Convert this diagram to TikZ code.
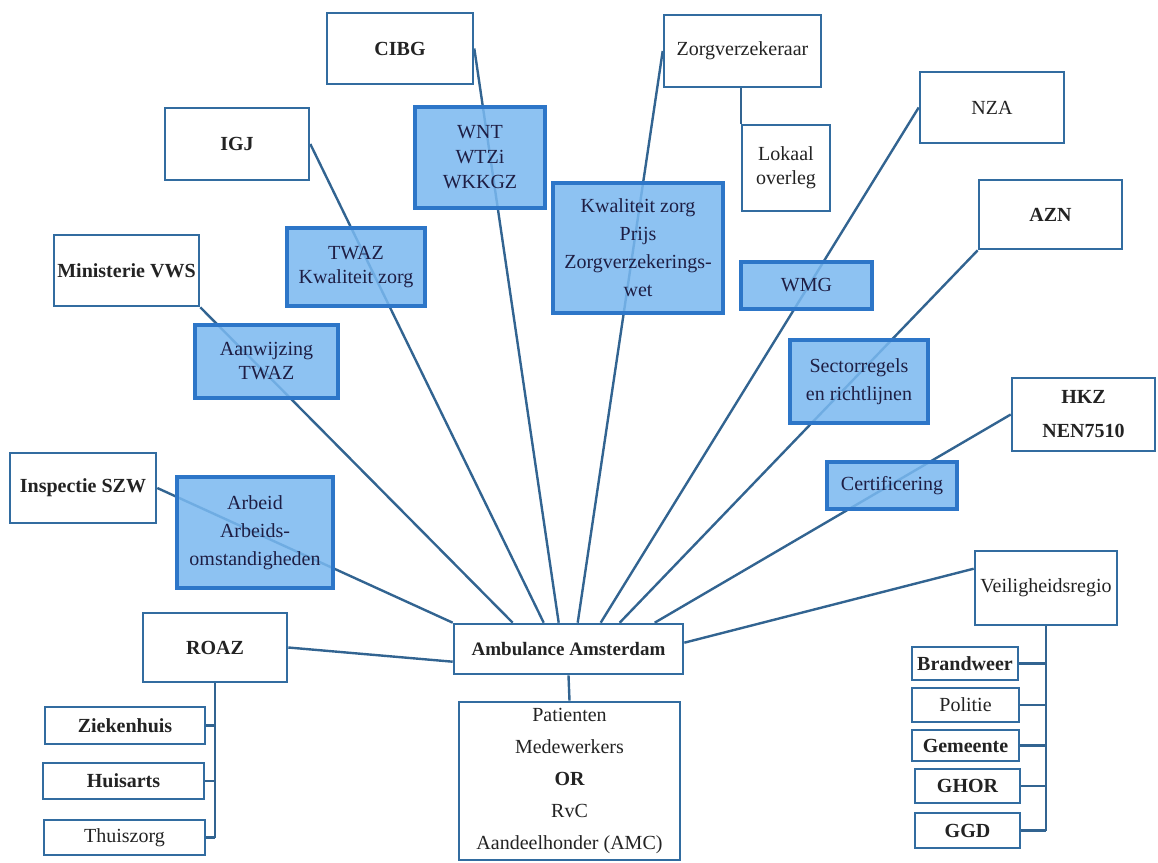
\documentclass[tikz,border=0pt]{standalone}
\usepackage{fontspec}
\setmainfont{Liberation Serif}
\usetikzlibrary{calc,backgrounds}
\definecolor{bord}{RGB}{50,108,160}
\definecolor{lnk}{RGB}{50,100,145}
\definecolor{bfill}{RGB}{122,184,240}
\definecolor{bbord}{RGB}{45,118,200}
\definecolor{txt}{RGB}{35,35,35}
\tikzset{
 base/.style={inner sep=0pt, align=center, text=txt, font=\fontsize{10}{12}\selectfont},
 wbox/.style={base, draw=bord, line width=1.3pt, fill=white},
 bbox/.style={base, draw=bbord, line width=1.6pt, fill=bfill, fill opacity=0.86, text opacity=1, text=txt!85!blue},
 link/.style={draw=lnk, line width=1.2pt},
}
% box: name, x1, y1, x2, y2, style, text
\newcommand\mybox[7]{\node[#6, minimum width={(#4-#2)*0.5pt}, minimum height={(#5-#3)*0.5pt}] (#1) at ({(#2+#4)/2},{(#3+#5)/2}) {#7};}
\begin{document}
\begin{tikzpicture}[x=0.5pt,y=-0.5pt]
\useasboundingbox (0,0) rectangle (1158,863);

% white boxes
\mybox{cibg}{327}{13}{473}{84}{wbox}{\bfseries CIBG}
\mybox{igj}{165}{108}{309}{180}{wbox}{\bfseries IGJ}
\mybox{vws}{54}{235}{199}{306}{wbox}{\bfseries Ministerie VWS}
\mybox{zorg}{664}{15}{821}{87}{wbox}{Zorgverzekeraar}
\mybox{lok}{742}{125}{830}{211}{wbox}{Lokaal\\overleg}
\mybox{nza}{920}{72}{1064}{143}{wbox}{NZA}
\mybox{azn}{979}{180}{1122}{249}{wbox}{\bfseries AZN}
\mybox{hkz}{1012}{378}{1155}{451}{wbox}{\bfseries HKZ\\[5pt]\bfseries NEN7510}
\mybox{insp}{10}{453}{156}{523}{wbox}{\bfseries Inspectie SZW}
\mybox{roaz}{143}{613}{287}{682}{wbox}{\bfseries ROAZ}
\mybox{zkh}{45}{707}{205}{744}{wbox}{\bfseries Ziekenhuis}
\mybox{huis}{43}{763}{204}{799}{wbox}{\bfseries Huisarts}
\mybox{thuis}{44}{820}{205}{855}{wbox}{Thuiszorg}
\mybox{amb}{454}{624}{683}{674}{wbox}{\fontsize{9.5}{12}\selectfont\bfseries Ambulance Amsterdam}
\mybox{pat}{459}{702}{680}{860}{wbox}{Patienten\\[4pt]Medewerkers\\[4pt]{\bfseries OR}\\[4pt]RvC\\[4pt]Aandeelhonder (AMC)}
\mybox{veil}{975}{551}{1117}{625}{wbox}{Veiligheidsregio}
\mybox{brand}{912}{647}{1018}{680}{wbox}{\bfseries Brandweer}
\mybox{pol}{912}{688}{1019}{722}{wbox}{Politie}
\mybox{gem}{912}{730}{1019}{761}{wbox}{\bfseries Gemeente}
\mybox{ghor}{915}{769}{1020}{803}{wbox}{\bfseries GHOR}
\mybox{ggd}{915}{813}{1020}{848}{wbox}{\bfseries GGD}

% blue boxes
\mybox{wnt}{415}{107}{545}{208}{bbox}{WNT\\[0.5pt]WTZi\\[0.5pt]WKKGZ}
\mybox{twaz}{287}{228}{425}{306}{bbox}{TWAZ\\Kwaliteit zorg}
\mybox{kwal}{553}{183}{723}{313}{bbox}{Kwaliteit zorg\\[2pt]Prijs\\[2pt]Zorgverzekerings-\\[2pt]wet}
\mybox{wmg}{741}{262}{872}{309}{bbox}{WMG}
\mybox{aanw}{195}{325}{338}{398}{bbox}{Aanwijzing\\TWAZ}
\mybox{sect}{790}{340}{928}{423}{bbox}{Sectorregels\\[2pt]en richtlijnen}
\mybox{cert}{827}{462}{957}{509}{bbox}{Certificering}
\mybox{arb}{177}{477}{333}{588}{bbox}{Arbeid\\[2pt]Arbeids-\\[2pt]omstandigheden}

\begin{scope}[on background layer]
\draw[link] (insp.east) -- (amb.north west);
\draw[link] (vws.south east) -- ($(amb.north west)+(60,0)$);
\draw[link] (igj.east) -- ($(amb.north west)+(91,0)$);
\draw[link] (cibg.east) -- ($(amb.north west)+(106,0)$);
\draw[link] (zorg.west) -- ($(amb.north west)+(125,0)$);
\draw[link] (nza.west) -- ($(amb.north west)+(148,0)$);
\draw[link] (azn.south west) -- ($(amb.north west)+(167,0)$);
\draw[link] (hkz.west) -- ($(amb.north west)+(202,0)$);
\draw[link] ($(veil.north west)+(0,19)$) -- ($(amb.north east)+(0,20)$);
\draw[link] (roaz.east) -- ($(amb.north west)+(0,39)$);
\draw[link] (amb.south) -- (pat.north);
\draw[link] (lok.north west) -- (lok.north west |- zorg.south);
% ROAZ tree
\draw[link] (roaz.south) -- (roaz.south |- thuis.east);
\draw[link] (zkh.east) -- (zkh.east -| roaz.south);
\draw[link] (huis.east) -- (huis.east -| roaz.south);
\draw[link] (thuis.east) -- (thuis.east -| roaz.south);
% Veiligheidsregio tree
\draw[link] (veil.south) -- (veil.south |- ggd.east);
\draw[link] (brand.east) -- (brand.east -| veil.south);
\draw[link] (pol.east) -- (pol.east -| veil.south);
\draw[link] (gem.east) -- (gem.east -| veil.south);
\draw[link] (ghor.east) -- (ghor.east -| veil.south);
\draw[link] (ggd.east) -- (ggd.east -| veil.south);
\end{scope}
\end{tikzpicture}
\end{document}
